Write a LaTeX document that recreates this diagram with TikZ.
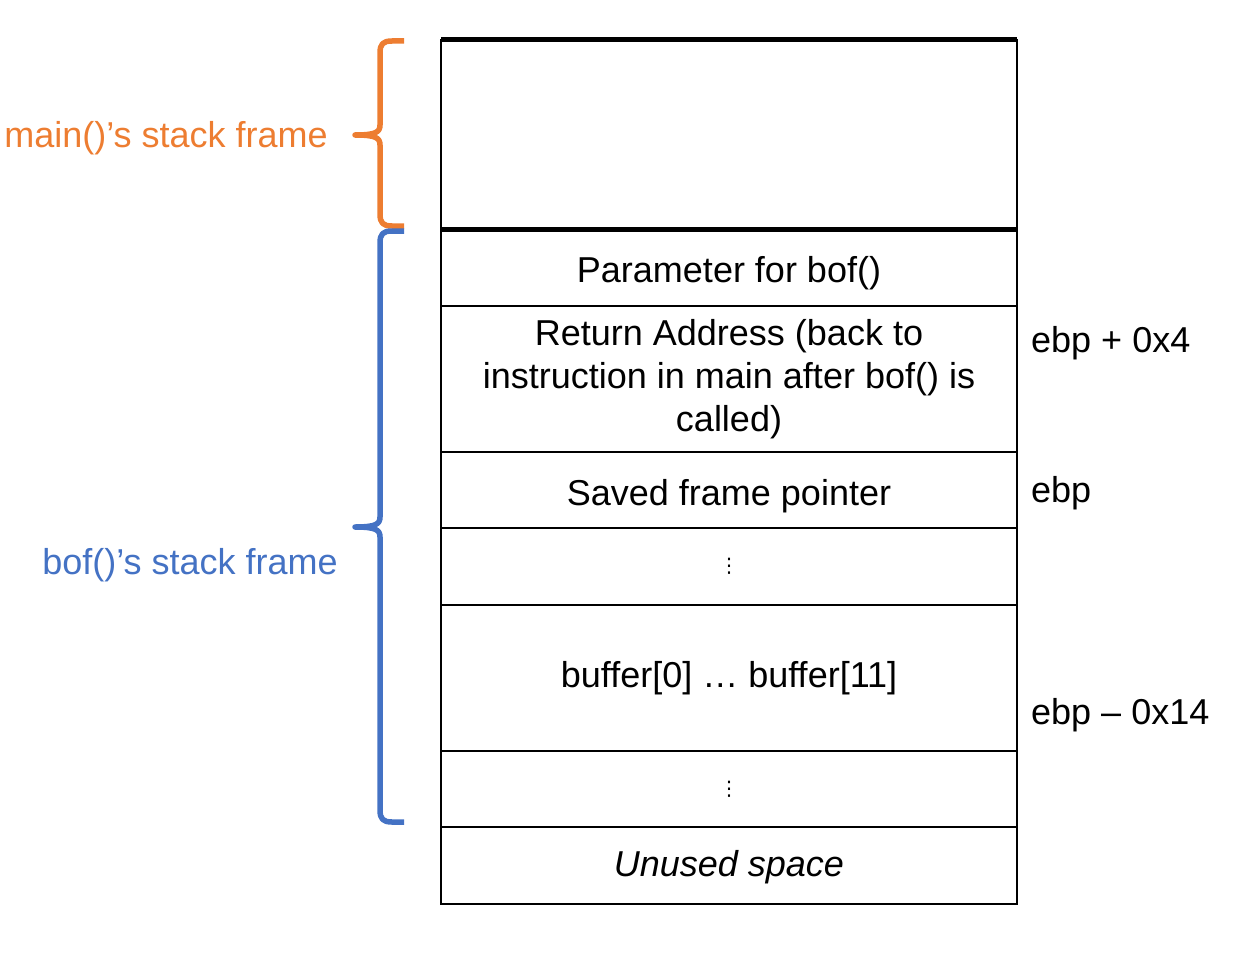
\documentclass[tikz,border=0pt]{standalone}
\usepackage{fontspec}
\setmainfont{Liberation Sans}
\newfontfamily\dotsfont{DejaVu Sans}
\definecolor{ed7d31}{HTML}{ED7D31}
\definecolor{c4472c4}{HTML}{4472C4}
\begin{document}
\begin{tikzpicture}[x=1pt,y=-1pt,
    cell/.style={draw,line width=1.5pt,minimum width=576pt,outer sep=0pt,inner sep=0pt,align=center,font=\fontsize{36}{43}\selectfont},
    txt/.style={text height=#1,text depth=8pt},
    tag/.style={anchor=west,inner sep=0pt,font=\fontsize{36}{43}\selectfont},
    brace/.style={line width=5.5pt,line join=round}]
    \newcommand{\CX}{729}
    \newcommand{\vdot}{{\dotsfont\fontsize{20}{24}\selectfont ⋮}}
    \useasboundingbox(0,0)rectangle(1238,952);
    % stack cells, top to bottom
    \node[cell,minimum height=189pt](main)at(\CX,134.5){};
    \node[cell,txt=37pt,minimum height=77pt](par)at(\CX,267.5){Parameter for bof()};
    \node[cell,minimum height=146pt](ret)at(\CX,379){Return Address (back to\\instruction in main after bof() is\\called)};
    \node[cell,txt=38pt,minimum height=76pt](sfp)at(\CX,490){Saved frame pointer};
    \node[cell,minimum height=77pt](gapa)at(\CX,566.5){\vdot};
    \node[cell,minimum height=146pt](buf)at(\CX,678){buffer[0] … buffer[11]};
    \node[cell,minimum height=76pt](gapb)at(\CX,789){\vdot};
    \node[cell,txt=30pt,minimum height=77pt](unused)at(\CX,865.5){\itshape Unused space};
    \draw[line width=5pt](main.north west)--(main.north east);
    \draw[line width=5pt](main.south west)--(main.south east);
    % offsets from ebp
    \node[tag](ra)at(1031,343){ebp + 0x4};
    \node[tag](fp)at(1031,493){ebp};
    \node[tag](bf)at(1031,715){ebp – 0x14};
    % braces
    \draw[brace,ed7d31](404,41)--(392,41)..controls(383,41)and(380,44)..(380,53)--(380,125)..controls(380,132)and(376,135)..(355,135)
        ..controls(376,135)and(380,138)..(380,145)--(380,214)..controls(380,223)and(383,226)..(392,226)--(404,226);
    \draw[brace,c4472c4](404,231)--(392,231)..controls(383,231)and(380,234)..(380,243)--(380,517)..controls(380,524)and(376,527)..(355,527)
        ..controls(376,527)and(380,530)..(380,537)--(380,810)..controls(380,819)and(383,822)..(392,822)--(404,822);
    \node[text=ed7d31,font=\fontsize{36}{43}\selectfont](mainlbl)at(166,138.5){main()’s stack frame};
    \node[text=c4472c4,font=\fontsize{36}{43}\selectfont](boflbl)at(190,565){bof()’s stack frame};
\end{tikzpicture}
\end{document}
